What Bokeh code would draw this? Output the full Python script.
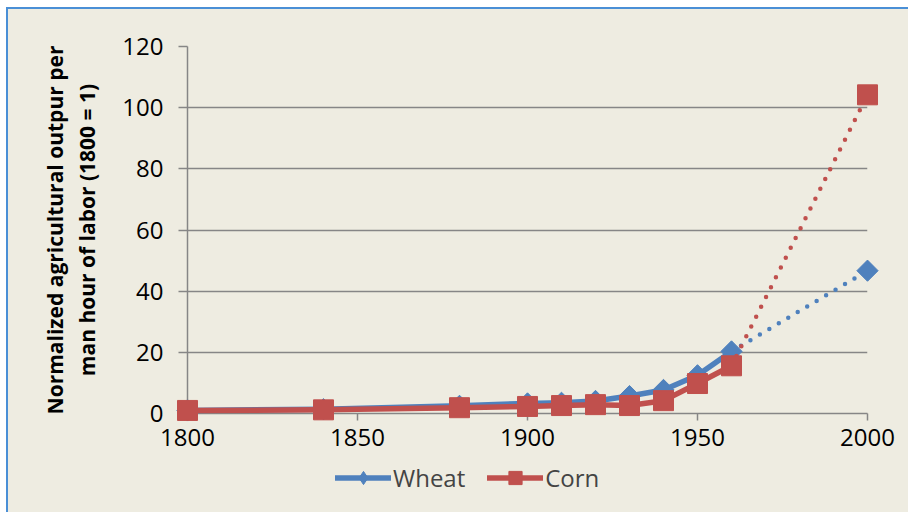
import math
from bokeh.plotting import figure
from bokeh.layouts import column
from bokeh.models import FixedTicker, Legend, LegendItem, Range1d
from bokeh.embed import file_html
from bokeh.resources import INLINE

# ---- data ----
years = [1800, 1840, 1880, 1900, 1910, 1920, 1930, 1940, 1950, 1960, 2000]
wheat = [1.0, 1.4, 2.5, 3.3, 3.5, 4.1, 5.7, 7.7, 12.5, 20.3, 46.7]
corn = [1.0, 1.2, 1.9, 2.3, 2.6, 2.9, 2.6, 4.2, 9.8, 15.6, 104.2]
x_ticks = [1800, 1850, 1900, 1950, 2000]
y_ticks = [0, 20, 40, 60, 80, 100, 120]
series_names = ["Wheat", "Corn"]
y_label = "Normalized agricultural outpur per\nman hour of labor (1800 = 1)"

BLUE = "#4F81BD"
RED = "#C0504D"
BG = "#EEECE1"
GRID = "#868686"
FRAME = "#4A8FD6"
FONT = "Open Sans"

split = years.index(1960)


def add_series(fig, visible=True, level="overlay"):
    wl = fig.line(years[:split + 1], wheat[:split + 1], line_color=BLUE, line_width=5.5,
                  line_join="round", line_cap="round", level=level, visible=visible)
    fig.line(years[split:], wheat[split:], line_color=BLUE, line_width=4.5,
             line_dash="0 11", line_cap="round", level=level, visible=visible)
    if visible:
        wm = fig.scatter(years, wheat, marker="square", angle=math.pi / 4, size=15,
                         fill_color=BLUE, line_color=BLUE, level=level)
    else:
        wm = fig.scatter(years, wheat, marker="diamond", size=15,
                         fill_color=BLUE, line_color=BLUE, visible=False)
    cl = fig.line(years[:split + 1], corn[:split + 1], line_color=RED, line_width=5.5,
                  line_join="round", line_cap="round", level=level, visible=visible)
    fig.line(years[split:], corn[split:], line_color=RED, line_width=4.5,
             line_dash="0 11", line_cap="round", level=level, visible=visible)
    cm = fig.scatter(years, corn, marker="square", size=20,
                     fill_color=RED, line_color=RED, level=level, visible=visible)
    return wl, wm, cl, cm


# ---- main chart ----
p = figure(frame_width=680, frame_height=367, output_backend="svg", toolbar_location=None,
           x_range=Range1d(1800, 2000), y_range=Range1d(0, 120),
           min_border_left=179, min_border_right=41, min_border_top=37, min_border_bottom=48,
           background_fill_color=BG, border_fill_color=BG)
p.outline_line_color = None

for ax in (p.xaxis[0], p.yaxis[0]):
    ax.axis_line_color = GRID
    ax.axis_line_width = 1.5
    ax.major_tick_line_color = GRID
    ax.major_tick_line_width = 1.5
    ax.minor_tick_line_color = None
    ax.major_tick_in = 0
    ax.major_label_text_font = FONT
    ax.major_label_text_font_size = "24px"
    ax.major_label_text_color = "black"

p.xaxis.ticker = FixedTicker(ticks=x_ticks)
p.yaxis.ticker = FixedTicker(ticks=y_ticks)
p.xaxis.major_tick_out = 7
p.yaxis.major_tick_out = 9
p.xaxis.major_label_standoff = 8
p.yaxis.major_label_standoff = 15

p.yaxis.axis_label = y_label
p.yaxis.axis_label_text_font = FONT
p.yaxis.axis_label_text_font_size = "21px"
p.yaxis.axis_label_text_font_style = "bold"
p.yaxis.axis_label_text_color = "black"
p.yaxis.axis_label_standoff = 18
p.yaxis.axis_label_text_line_height = 1.15

p.xgrid.grid_line_color = None
p.ygrid.grid_line_color = GRID
p.ygrid.grid_line_width = 1.5

add_series(p)

# ---- legend strip (same data, renderers hidden, only the legend is shown) ----
lf = figure(width=900, height=51, output_backend="svg", toolbar_location=None,
            x_range=Range1d(1800, 2000), y_range=Range1d(0, 120),
            x_axis_type=None, y_axis_type=None,
            min_border_left=0, min_border_right=0, min_border_top=0, min_border_bottom=0,
            background_fill_color=BG, border_fill_color=BG)
lf.outline_line_color = None
lf.grid.visible = False
wl, wm, cl, cm = add_series(lf, visible=False)

legend = Legend(items=[LegendItem(label=series_names[0], renderers=[wl, wm]),
                       LegendItem(label=series_names[1], renderers=[cl, cm])],
                orientation="horizontal", location=(148, 18),
                background_fill_alpha=0, border_line_alpha=0,
                inactive_fill_alpha=0,
                label_text_font=FONT, label_text_font_size="24px",
                glyph_width=56, glyph_height=33, label_standoff=2, spacing=22,
                padding=0, margin=0)
lf.add_layout(legend, "center")

layout = column(p, lf, spacing=0)
layout.styles = {"margin-left": "6px", "margin-top": "7px",
                 "border-left": f"2px solid {FRAME}", "border-top": f"2px solid {FRAME}",
                 "background-color": BG}

open("out.html", "w").write(file_html(layout, INLINE))
